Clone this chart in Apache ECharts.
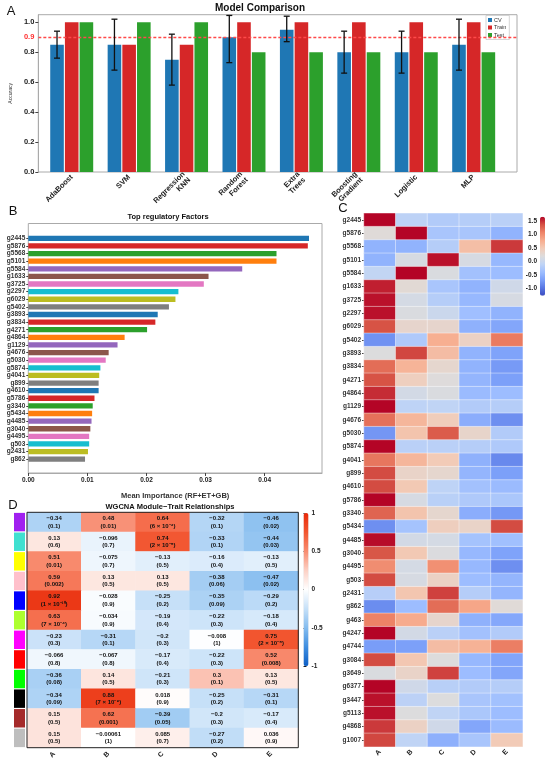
<!DOCTYPE html>
<html>
<head>
<meta charset="utf-8">
<title>Model comparison / regulatory factors / WGCNA</title>
<script src="https://cdn.jsdelivr.net/npm/echarts@6/dist/echarts.min.js"></script>
<style>
html,body{margin:0;padding:0;background:#fff;}
#main{width:550px;height:764px;}
</style>
</head>
<body>
<div id="main"></div>
<script>
// A - model accuracy
var models = ['AdaBoost', 'SVM', 'Regression\nKNN', 'Random\nForest', 'Extra\nTrees', 'Boosting\nGradient', 'Logistic', 'MLP'];
var cvAcc = [0.85, 0.85, 0.75, 0.90, 0.95, 0.80, 0.80, 0.85];
var cvLow = [0.76, 0.68, 0.58, 0.73, 0.87, 0.66, 0.66, 0.68];
var cvHigh = [0.94, 1.02, 0.92, 1.045, 1.04, 0.94, 0.94, 1.02];
var trainAcc = [1.0, 0.85, 0.85, 1.0, 1.0, 1.0, 1.0, 1.0];
var testAcc = [1.0, 1.0, 1.0, 0.80, 0.80, 0.80, 0.80, 0.80];
var threshold = 0.9;

// B - top regulatory factors
var topGenes = ['g2445','g5876','g5568','g5101','g5584','g1633','g3725','g2297','g6029','g5402',
                'g3893','g3834','g4271','g4864','g1129','g4676','g5030','g5874','g4041','g899',
                'g4610','g5786','g3340','g5434','g4485','g3040','g4495','g503','g2431','g862'];
var importance = [0.0475,0.0473,0.0420,0.0420,0.0362,0.0305,0.0297,0.0254,0.0249,0.0238,
                  0.0219,0.0215,0.0201,0.0163,0.0151,0.0136,0.0131,0.0122,0.0120,0.0119,
                  0.0119,0.0112,0.0109,0.0108,0.0107,0.0105,0.0103,0.0103,0.0101,0.0096];

// C - expression heatmap (scaled)
var heatCols = ['A','B','C','D','E'];
var heatGenes = ['g2445','g5876','g5568','g5101','g5584','g1633','g3725','g2297','g6029','g5402',
                 'g3893','g3834','g4271','g4864','g1129','g4676','g5030','g5874','g4041','g899',
                 'g4610','g5786','g3340','g5434','g4485','g3040','g4495','g503','g2431','g862',
                 'g463','g4247','g4744','g3084','g3649','g6377','g3447','g5113','g4868','g1007'];
var zScores = [
  [1.65,-0.13,-0.22,-0.20,-0.15],
  [0.22,1.65,-0.30,-0.30,-0.50],
  [-0.50,-0.50,-0.20,0.60,1.45],
  [-0.50,0.12,1.60,0.12,-0.45],
  [-0.08,1.65,0.15,-0.35,-0.40],
  [1.55,0.25,-0.30,-0.50,0.05],
  [1.60,0.10,-0.20,-0.45,0.12],
  [1.60,0.15,0.00,-0.38,-0.50],
  [1.35,0.32,0.32,-0.52,-0.62],
  [-0.78,-0.25,0.75,0.38,1.12],
  [0.18,1.40,0.62,-0.50,-0.65],
  [1.20,0.70,0.30,-0.50,-0.72],
  [1.35,0.42,0.20,-0.48,-0.68],
  [1.50,0.08,0.15,-0.42,-0.40],
  [1.65,-0.12,-0.10,-0.22,-0.20],
  [1.18,0.68,0.45,-0.55,-0.80],
  [-0.75,0.55,1.30,0.33,-0.22],
  [1.65,-0.15,-0.15,-0.20,-0.25],
  [1.15,0.68,0.48,-0.52,-0.85],
  [1.38,0.35,0.30,-0.48,-0.68],
  [1.38,0.50,-0.12,-0.35,-0.42],
  [1.65,0.12,-0.16,-0.25,-0.28],
  [1.25,0.55,0.30,-0.55,-0.74],
  [-0.80,-0.33,0.43,0.35,1.38],
  [1.62,0.08,0.10,-0.33,-0.37],
  [1.33,0.50,0.17,-0.45,-0.65],
  [1.00,0.10,0.98,-0.45,-0.80],
  [1.38,0.12,0.38,-0.40,-0.48],
  [-0.18,0.53,1.42,-0.20,-0.48],
  [-0.82,-0.40,1.20,0.82,0.23],
  [1.08,0.78,0.32,-0.52,-0.60],
  [1.65,0.08,-0.15,-0.35,-0.22],
  [-0.70,-0.68,0.62,0.72,1.10],
  [1.38,0.52,0.19,-0.45,-0.63],
  [0.15,0.35,1.42,-0.40,-0.62],
  [1.65,0.05,-0.17,-0.22,-0.20],
  [1.60,-0.14,0.18,-0.30,-0.36],
  [1.60,0.18,-0.10,-0.28,-0.40],
  [1.45,0.38,0.05,-0.62,-0.42],
  [1.40,-0.10,-0.53,-0.30,0.48]
];

// D - module-trait correlations
var modules = ['purple','turquoise','yellow','pink','blue','greenyellow','magenta','red','green','black','brown','grey'];
var traits = ['A','B','C','D','E'];
var moduleCor = [
  [-0.34, 0.48, 0.64, -0.32, -0.46],
  [0.13, -0.096, 0.74, -0.33, -0.44],
  [0.51, -0.075, -0.13, -0.16, -0.13],
  [0.59, 0.13, 0.13, -0.38, -0.47],
  [0.92, -0.028, -0.25, -0.35, -0.29],
  [0.63, -0.034, -0.19, -0.22, -0.18],
  [-0.23, -0.31, -0.2, -0.008, 0.75],
  [-0.066, -0.067, -0.17, -0.22, 0.52],
  [-0.36, 0.14, -0.21, 0.3, 0.13],
  [-0.34, 0.88, 0.018, -0.25, -0.31],
  [0.15, 0.62, -0.39, -0.2, -0.17],
  [0.15, -0.00061, 0.085, -0.27, 0.036]
];
var modulePval = [
  ['0.1', '0.01', '6 × 10⁻⁴', '0.1', '0.02'],
  ['0.6', '0.7', '2 × 10⁻⁵', '0.1', '0.03'],
  ['0.01', '0.7', '0.5', '0.4', '0.5'],
  ['0.002', '0.5', '0.5', '0.06', '0.02'],
  ['1 × 10⁻¹⁰', '0.9', '0.2', '0.09', '0.2'],
  ['7 × 10⁻⁴', '0.9', '0.4', '0.3', '0.4'],
  ['0.3', '0.1', '0.3', '1', '2 × 10⁻⁵'],
  ['0.8', '0.8', '0.4', '0.3', '0.008'],
  ['0.08', '0.5', '0.3', '0.1', '0.5'],
  ['0.09', '7 × 10⁻⁹', '0.9', '0.2', '0.1'],
  ['0.5', '0.001', '0.05', '0.3', '0.4'],
  ['0.5', '1', '0.7', '0.2', '0.9']
];

// R colour names used by WGCNA
var rColors = {purple:'#a020f0', turquoise:'#40e0d0', yellow:'#ffff00', pink:'#ffc0cb', blue:'#0000ff',
  greenyellow:'#adff2f', magenta:'#ff00ff', red:'#ff0000', green:'#00ff00', black:'#000000',
  brown:'#a52a2a', grey:'#bebebe'};
var paletteB = ['#1f77b4','#d62728','#2ca02c','#ff7f0e','#9467bd','#8c564b','#e377c2','#17becf','#bcbd22','#7f7f7f'];
var coolwarm = ['#3b4cc0','#5977e3','#7b9ff9','#9ebeff','#c0d4f5','#dddcdc','#f2cbb7','#f7ac8e','#ee8468','#d65244','#b40426'];
var bwr = ['#0d5fc6','#3f8ee0','#84bcef','#c6e0f8','#ffffff','#fcd0c4','#f88c70','#f2552f','#e82a0a'];

var FONT = "'Liberation Sans', Arial, sans-serif";
var BAR_W = 13.6, BAR_GAP = 0.08;

var heatData = [];
zScores.forEach(function(row, r){
  row.forEach(function(v, c){ heatData.push([c, r, v]); });
});
var corData = [];
moduleCor.forEach(function(row, r){
  row.forEach(function(v, c){ corData.push([c, r, v]); });
});

function minus(v){ return String(v).replace('-', '\u2212'); }

function txt(x, y, s, font){
  return {type:'text', x:x, y:y, silent:true,
    style:{text:s, font:font, fill:'#111', textAlign:'center', textVerticalAlign:'middle', align:'center', verticalAlign:'middle'}};
}

var myChart = echarts.init(document.getElementById('main'));

var option = {
  backgroundColor: '#fff',
  animation: false,
  textStyle: {fontFamily: FONT},
  graphic: [
    txt(11, 11, 'A', '13px ' + FONT),
    txt(260, 8.5, 'Model Comparison', 'bold 10px ' + FONT),
    txt(13, 211, 'B', '13px ' + FONT),
    txt(168, 217, 'Top regulatory Factors', 'bold 7.5px ' + FONT),
    txt(343, 208, 'C', '13px ' + FONT),
    txt(13, 505, 'D', '13px ' + FONT),
    txt(170, 507, 'WGCNA Module\u2212Trait Relationships', 'bold 7.5px ' + FONT)
  ],
  legend: {
    data: ['CV', 'Train', 'Test'],
    orient: 'vertical', left: 486, top: 15.5,
    icon: 'rect', itemWidth: 4, itemHeight: 4, itemGap: 1.5,
    padding: [1.5, 3, 1.5, 2],
    borderColor: '#bbb', borderWidth: 0.6, backgroundColor: '#fff',
    textStyle: {fontSize: 5.5, color: '#333', padding: [0, 0, 0, -3]}
  },
  grid: [
    {left: 29, right: 33, top: 14.7, bottom: 592, show: true, borderColor: '#aaa', borderWidth: 1},
    {left: 43, right: 47.6, top: 14.7, bottom: 592},
    {left: 28.3, right: 228, top: 223.5, bottom: 291, show: true, borderColor: '#aaa', borderWidth: 1},
    {left: 28.3, right: 228, top: 234.5, bottom: 301},
    {left: 364, right: 27.3, top: 213.3, bottom: 17.3},
    {left: 540, width: 5, top: 216.7, height: 79},
    {left: 27, right: 251.7, top: 512.3, bottom: 16.3, show: true, borderColor: '#222', borderWidth: 1, z: 5},
    {left: 14, width: 11, top: 512.3, bottom: 16.3},
    {left: 303.5, width: 5, top: 513, height: 153}
  ],
  xAxis: [
    {type: 'value', gridIndex: 0, min: 0, max: 1, show: false},
    {type: 'category', gridIndex: 1, data: models,
      axisLine: {show: false}, axisTick: {show: false},
      axisLabel: {rotate: 45, interval: 0, fontSize: 7.5, fontWeight: 'bold', color: '#222', margin: 4, lineHeight: 8}},
    {type: 'value', gridIndex: 2, min: 0, max: 0.0497, interval: 0.01,
      axisLine: {show: true, lineStyle: {color: '#aaa'}},
      axisTick: {show: true, length: 3, lineStyle: {color: '#444'}},
      splitLine: {show: false},
      axisLabel: {fontSize: 6.5, fontWeight: 'bold', color: '#222', margin: 4, showMaxLabel: false,
        formatter: function(v){ return v.toFixed(2); }},
      name: 'Mean Importance (RF+ET+GB)', nameLocation: 'middle', nameGap: 19,
      nameTextStyle: {fontSize: 7.5, fontWeight: 'bold', color: '#333'}},
    {type: 'value', gridIndex: 3, min: 0, max: 0.0497, show: false},
    {type: 'category', gridIndex: 4, data: heatCols,
      axisLine: {show: false}, axisTick: {show: false},
      axisLabel: {rotate: 45, fontSize: 7, fontWeight: 'bold', color: '#222', margin: 4}},
    {type: 'value', gridIndex: 5, show: false},
    {type: 'category', gridIndex: 6, data: traits,
      axisLine: {show: false}, axisTick: {show: false},
      axisLabel: {rotate: 45, fontSize: 7, fontWeight: 'bold', color: '#222', margin: 5}},
    {type: 'value', gridIndex: 7, min: 0, max: 1, show: false},
    {type: 'value', gridIndex: 8, show: false}
  ],
  yAxis: [
    {type: 'value', gridIndex: 0, min: 0, max: 1.05, interval: 0.2,
      axisLine: {show: true, lineStyle: {color: '#aaa'}},
      axisTick: {show: true, length: 3, lineStyle: {color: '#444'}},
      splitLine: {show: false},
      axisLabel: {fontSize: 7.5, fontWeight: 'bold', color: '#222', margin: 4, showMaxLabel: false,
        formatter: function(v){ return v.toFixed(1); }},
      name: 'Accuracy', nameLocation: 'middle', nameGap: 20, nameRotate: 90,
      nameTextStyle: {fontSize: 5, color: '#333'}},
    {type: 'value', gridIndex: 1, min: 0, max: 1.05, show: false},
    {type: 'value', gridIndex: 2, show: false},
    {type: 'category', gridIndex: 3, data: topGenes, inverse: true,
      axisLine: {show: false},
      axisTick: {show: true, alignWithLabel: true, length: 2, lineStyle: {color: '#444'}},
      axisLabel: {interval: 0, fontSize: 6.5, fontWeight: 'bold', color: '#333', margin: 3}},
    {type: 'category', gridIndex: 4, data: heatGenes, inverse: true,
      axisLine: {show: false},
      axisTick: {show: true, alignWithLabel: true, length: 2, lineStyle: {color: '#444'}},
      axisLabel: {interval: 0, fontSize: 6.5, fontWeight: 'bold', color: '#333', margin: 3}},
    {type: 'value', gridIndex: 5, position: 'left', min: -1.27, max: 1.65, splitNumber: 6,
      axisLine: {show: false},
      axisTick: {show: false},
      splitLine: {show: false},
      axisLabel: {fontSize: 6.5, fontWeight: 'bold', color: '#222', margin: 3, showMinLabel: false, showMaxLabel: false,
        formatter: function(v){ return v.toFixed(1); }}},
    {type: 'category', gridIndex: 6, data: modules, inverse: true, show: false},
    {type: 'category', gridIndex: 7, data: modules, inverse: true, show: false},
    {type: 'value', gridIndex: 8, position: 'right', min: -1, max: 1, interval: 0.5,
      axisLine: {show: false},
      axisTick: {show: true, length: 3, lineStyle: {color: '#222'}},
      splitLine: {show: false},
      axisLabel: {fontSize: 6.5, fontWeight: 'bold', color: '#222', margin: 3,
        formatter: function(v){ return String(v); }}}
  ],
  visualMap: [
    {type: 'continuous', seriesIndex: 6, min: -1.27, max: 1.65, calculable: false,
      left: 540, top: 216.7, itemWidth: 5, itemHeight: 79, padding: 0,
      inRange: {color: coolwarm}},
    {type: 'continuous', seriesIndex: 8, min: -1, max: 1, calculable: false,
      left: 303.5, top: 513, itemWidth: 5, itemHeight: 153, padding: 0,
      inRange: {color: bwr}}
  ],
  series: [
    {name: 'CV', type: 'bar', xAxisIndex: 1, yAxisIndex: 1, data: cvAcc,
      barWidth: BAR_W, barGap: (BAR_GAP * 100) + '%', itemStyle: {color: '#1f77b4'}},
    {name: 'Train', type: 'bar', xAxisIndex: 1, yAxisIndex: 1, data: trainAcc,
      barWidth: BAR_W, barGap: (BAR_GAP * 100) + '%', itemStyle: {color: '#d62728'}},
    {name: 'Test', type: 'bar', xAxisIndex: 1, yAxisIndex: 1, data: testAcc,
      barWidth: BAR_W, barGap: (BAR_GAP * 100) + '%', itemStyle: {color: '#2ca02c'}},
    {type: 'custom', xAxisIndex: 1, yAxisIndex: 1, z: 10, silent: true,
      data: models.map(function(m, i){ return [i, cvLow[i], cvHigh[i]]; }),
      renderItem: function(params, api){
        var lo = api.coord([api.value(0), api.value(1)]);
        var hi = api.coord([api.value(0), api.value(2)]);
        var x = lo[0] - BAR_W * (1 + BAR_GAP);
        var st = {stroke: '#111', lineWidth: 1.3};
        return {type: 'group', children: [
          {type: 'line', shape: {x1: x, y1: lo[1], x2: x, y2: hi[1]}, style: st},
          {type: 'line', shape: {x1: x - 3, y1: lo[1], x2: x + 3, y2: lo[1]}, style: st},
          {type: 'line', shape: {x1: x - 3, y1: hi[1], x2: x + 3, y2: hi[1]}, style: st}
        ]};
      }},
    {type: 'line', xAxisIndex: 0, yAxisIndex: 0, data: [],
      markLine: {symbol: 'none', silent: true,
        lineStyle: {color: '#ff4a4a', type: [3, 2], width: 1.3},
        label: {position: 'start', formatter: String(threshold), color: '#ff3030', fontSize: 7.5, fontWeight: 'bold', distance: 4},
        data: [{yAxis: threshold}]}},
    {type: 'bar', xAxisIndex: 3, yAxisIndex: 3, data: importance, barWidth: 5.3,
      itemStyle: {color: function(p){ return paletteB[p.dataIndex % paletteB.length]; }}},
    {type: 'heatmap', xAxisIndex: 4, yAxisIndex: 4, data: heatData,
      itemStyle: {borderColor: 'rgba(255,255,255,0.7)', borderWidth: 0.6}},
    {type: 'line', xAxisIndex: 5, yAxisIndex: 5, data: []},
    {type: 'heatmap', xAxisIndex: 6, yAxisIndex: 6, data: corData,
      label: {show: true, fontSize: 6, fontWeight: 'bold', color: '#111', lineHeight: 7.5,
        formatter: function(p){
          return minus(p.data[2]) + '\n(' + modulePval[p.data[1]][p.data[0]] + ')';
        }}},
    {type: 'bar', xAxisIndex: 7, yAxisIndex: 7, barCategoryGap: '6%',
      data: modules.map(function(m){ return {value: 1, itemStyle: {color: rColors[m]}}; })},
    {type: 'line', xAxisIndex: 8, yAxisIndex: 8, data: []}
  ]
};

myChart.setOption(option);
</script>
</body>
</html>
